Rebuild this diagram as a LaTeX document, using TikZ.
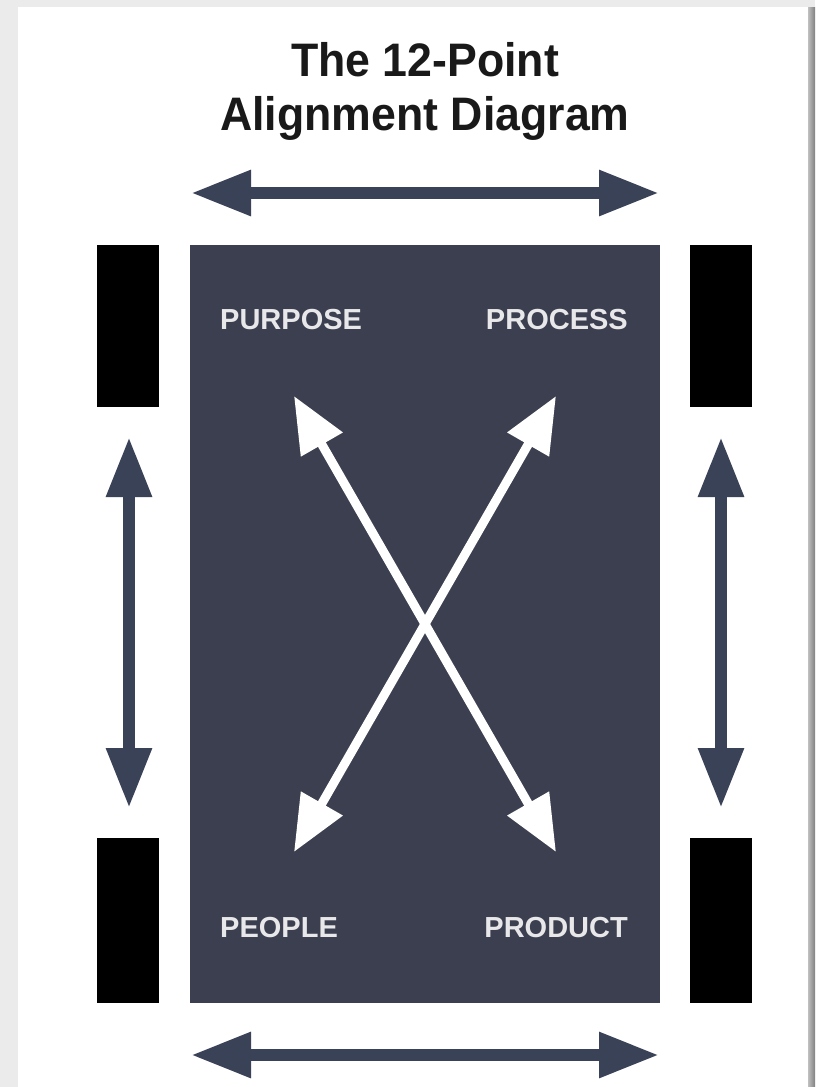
\documentclass[tikz,border=0pt]{standalone}
\usepackage{fontspec}
\setmainfont{Liberation Sans}
\usetikzlibrary{arrows.meta}
\definecolor{slate}{HTML}{3B3F50}
\definecolor{arrowslate}{HTML}{3A4257}
\definecolor{labelgray}{HTML}{E8E8EA}
\definecolor{pagegray}{HTML}{EBEBEB}
\tikzset{
  bar/.style={fill=black, draw=none, minimum width=62pt, minimum height=162pt, inner sep=0pt, outer sep=0pt},
  dark arrow/.style={draw=arrowslate, line width=12pt, {Triangle[length=60pt,width=43pt]}-{Triangle[length=60pt,width=43pt]}},
  white arrow/.style={draw=white, line width=9pt, {Triangle[length=56pt,width=46pt]}-{Triangle[length=56pt,width=46pt]}},
  cornerlabel/.style={text=labelgray, font=\fontsize{29}{29}\selectfont\bfseries, inner sep=0pt},
  titletext/.style={font=\fontsize{47}{54}\selectfont\bfseries, inner sep=0pt, text=black!90}
}
\begin{document}
\begin{tikzpicture}[x=1pt,y=-1pt]
  \useasboundingbox (0,0) rectangle (815,1087);
  % page background and card
  \fill[pagegray] (0,0) rectangle (815,1087);
  \fill[white] (18,7) rectangle (808,1087);
  \shade[left color=black!25, right color=black!50] (808,7) rectangle (815,1087);
  % title
  \node[titletext, anchor=base] (t1) at (425,76) {\scalebox{0.95}[1]{The 12-Point}};
  \node[titletext, anchor=base] (t2) at (425,130) {\scalebox{0.95}[1]{Alignment Diagram}};
  % main board
  \node[fill=slate, draw=none, minimum width=470pt, minimum height=758pt, inner sep=0pt, anchor=north west] (board) at (190,245) {};
  % black bars
  \node[bar, anchor=north west] (lt) at (97,245) {};
  \node[bar, anchor=north west, minimum height=165pt] (lb) at (97,838) {};
  \node[bar, anchor=north west] (rt) at (690,245) {};
  \node[bar, anchor=north west, minimum height=165pt] (rb) at (690,838) {};
  % corner labels
  \node[cornerlabel, anchor=base west] (purpose) at (220,329) {PURPOSE};
  \node[cornerlabel, anchor=base east] (process) at (628,329) {PROCESS};
  \node[cornerlabel, anchor=base west] (people) at (220,937) {PEOPLE};
  \node[cornerlabel, anchor=base east] (product) at (628,937) {PRODUCT};
  % arrow end points
  \coordinate (topL) at (191,193);
  \coordinate (topR) at (659,193);
  \coordinate (botL) at (191,1055);
  \coordinate (botR) at (659,1055);
  \coordinate (leftU) at (129,437);
  \coordinate (leftD) at (129,808);
  \coordinate (rightU) at (721,437);
  \coordinate (rightD) at (721,808);
  \coordinate (xTL) at (294,396);
  \coordinate (xTR) at (556,396);
  \coordinate (xBL) at (294,852);
  \coordinate (xBR) at (556,852);
  % dark arrows
  \draw[dark arrow] (topL) -- (topR);
  \draw[dark arrow] (botL) -- (botR);
  \draw[dark arrow] (leftU) -- (leftD);
  \draw[dark arrow] (rightU) -- (rightD);
  % white crossing arrows
  \draw[white arrow] (xTL) -- (xBR);
  \draw[white arrow] (xTR) -- (xBL);
\end{tikzpicture}
\end{document}
